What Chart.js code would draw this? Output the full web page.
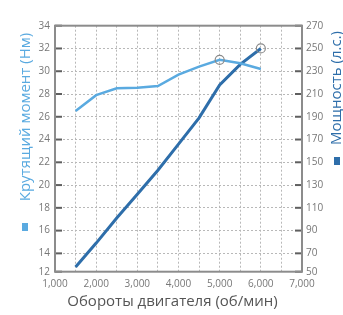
<!DOCTYPE html>
<html>
<head>
<meta charset="utf-8">
<script src="https://cdn.jsdelivr.net/npm/chart.js@4"></script>
<style>
  html, body { margin: 0; padding: 0; background: #fff; }
  #wrap { width: 343px; height: 315px; position: relative; }
</style>
</head>
<body>
<div id="wrap"><canvas id="c"></canvas></div>
<script>
// Engine curve: torque (left axis) and power (right axis) against rpm.
const RPM = [1500, 2000, 2500, 3000, 3500, 4000, 4500, 5000, 5500, 6000];
const TORQUE = [26.5, 27.9, 28.5, 28.55, 28.7, 29.7, 30.4, 31.0, 30.7, 30.2];
const POWER = [58, 79, 101, 122, 143, 166, 189, 218, 236, 250];

// Peaks get a hollow ring marker.
const TORQUE_PEAK = 7;
const POWER_PEAK = 9;

const RPM_TICKS = [1000, 1500, 2000, 2500, 3000, 3500, 4000, 4500, 5000, 5500, 6000, 6500, 7000];
const TORQUE_TICKS = ['12', '14', '16', '18', '20', '22', '24', '26', '28', '30', '32', '34'];
const POWER_TICKS = ['50', '70', '90', '110', '130', '150', '170', '190', '210', '230', '250', '270'];

// The source chart's bottom row is squeezed: the "12"/"50" line sits a bit
// above where an even step would put it, so the floor is not a round number.
const TORQUE_FLOOR = 12.39;
const POWER_FLOOR = 53.87;

const LIGHT = '#5aaae0';
const DARK = '#2e6eaa';
const FONT = "'Open Sans', 'DejaVu Sans', sans-serif";

const tickFont = { family: FONT, size: 10 };
const grid = { color: '#b8b8b8', lineWidth: 1, drawTicks: false };

const ringRadius = (peak) => RPM.map((_, i) => (i === peak ? 4.5 : 0));

// Rotated axis title with a small colour square below it (legend-style).
function sideTitle(ctx, text, color, cx, cy, sq) {
  ctx.save();
  ctx.fillStyle = color;
  ctx.translate(cx, cy);
  ctx.rotate(-Math.PI / 2);
  ctx.fillText(text, 0, 0);
  ctx.restore();
  ctx.fillStyle = color;
  ctx.fillRect(sq.x, sq.y, sq.w, sq.h);
}

// Box, inside tick marks and the three axis titles.
const decor = {
  id: 'decor',
  beforeDatasetsDraw(chart) {
    const { ctx, chartArea: a, scales } = chart;
    ctx.save();
    ctx.setLineDash([]);
    ctx.strokeStyle = '#5f5f5f';
    ctx.lineWidth = 2;
    const mark = (x0, x1, y) => { ctx.beginPath(); ctx.moveTo(x0, y); ctx.lineTo(x1, y); ctx.stroke(); };
    scales.y.ticks.forEach((t) => mark(a.left, a.left + 7, scales.y.getPixelForValue(t.value)));
    scales.y1.ticks.forEach((t) => mark(a.right - 7, a.right, scales.y1.getPixelForValue(t.value)));
    ctx.strokeStyle = '#8c8c8c';
    ctx.strokeRect(a.left, a.top, a.right - a.left, a.bottom - a.top);
    ctx.restore();
  },
  afterDraw(chart) {
    const { ctx } = chart;
    ctx.save();
    ctx.textAlign = 'center';
    ctx.textBaseline = 'middle';
    ctx.font = `15px ${FONT}`;
    ctx.fillStyle = '#555';
    ctx.fillText('Обороты двигателя (об/мин)', 172.5, 302);
    sideTitle(ctx, 'Крутящий момент (Нм)', LIGHT, 26, 117, { x: 22, y: 223, w: 6, h: 8 });
    sideTitle(ctx, 'Мощность (л.с.)', DARK, 336.5, 88, { x: 334, y: 157, w: 6, h: 8 });
    ctx.restore();
  },
};

new Chart(document.getElementById('c'), {
  type: 'line',
  data: {
    datasets: [
      {
        label: 'Крутящий момент (Нм)',
        data: RPM.map((r, i) => ({ x: r, y: TORQUE[i] })),
        yAxisID: 'y',
        borderColor: LIGHT,
        borderWidth: 2.5,
        tension: 0,
        pointRadius: ringRadius(TORQUE_PEAK),
        pointBorderColor: '#8a8a8a',
        pointBorderWidth: 1.2,
        pointBackgroundColor: 'rgba(255,255,255,0)',
      },
      {
        label: 'Мощность (л.с.)',
        data: RPM.map((r, i) => ({ x: r, y: POWER[i] })),
        yAxisID: 'y1',
        borderColor: DARK,
        borderWidth: 3,
        tension: 0,
        pointRadius: ringRadius(POWER_PEAK),
        pointBorderColor: '#8a8a8a',
        pointBorderWidth: 1.2,
        pointBackgroundColor: 'rgba(255,255,255,0)',
      },
    ],
  },
  options: {
    responsive: true,
    maintainAspectRatio: false,
    animation: false,
    layout: { padding: { top: 25.7, left: 0, right: 0, bottom: 0 } },
    plugins: { legend: { display: false }, tooltip: { enabled: false } },
    scales: {
      x: {
        type: 'linear',
        min: 1000,
        max: 7000,
        afterBuildTicks: (s) => { s.ticks = RPM_TICKS.map((v) => ({ value: v })); },
        afterFit: (s) => { s.height = 43.3; },
        grid,
        border: { display: false, dash: [2, 2] },
        ticks: {
          color: '#777',
          font: tickFont,
          padding: 6,
          maxRotation: 0,
          autoSkip: false,
          callback: (v) => (v % 1000 === 0 ? v.toLocaleString('en-US') : ''),
        },
      },
      y: {
        type: 'linear',
        position: 'left',
        min: TORQUE_FLOOR,
        max: 34,
        afterBuildTicks: (s) => {
          s.ticks = TORQUE_TICKS.map((t, i) => ({ value: i === 0 ? TORQUE_FLOOR : Number(t) }));
        },
        afterFit: (s) => { s.width = 55; },
        grid,
        border: { display: false, dash: [2, 2] },
        ticks: { color: '#777', font: tickFont, padding: 5, callback: (v, i) => TORQUE_TICKS[i] },
      },
      y1: {
        type: 'linear',
        position: 'right',
        min: POWER_FLOOR,
        max: 270,
        afterBuildTicks: (s) => {
          s.ticks = POWER_TICKS.map((t, i) => ({ value: i === 0 ? POWER_FLOOR : Number(t) }));
        },
        afterFit: (s) => { s.width = 41; },
        grid: { display: false, drawTicks: false },
        border: { display: false },
        ticks: { color: '#777', font: tickFont, padding: 4, callback: (v, i) => POWER_TICKS[i] },
      },
    },
  },
  plugins: [decor],
});
</script>
</body>
</html>
